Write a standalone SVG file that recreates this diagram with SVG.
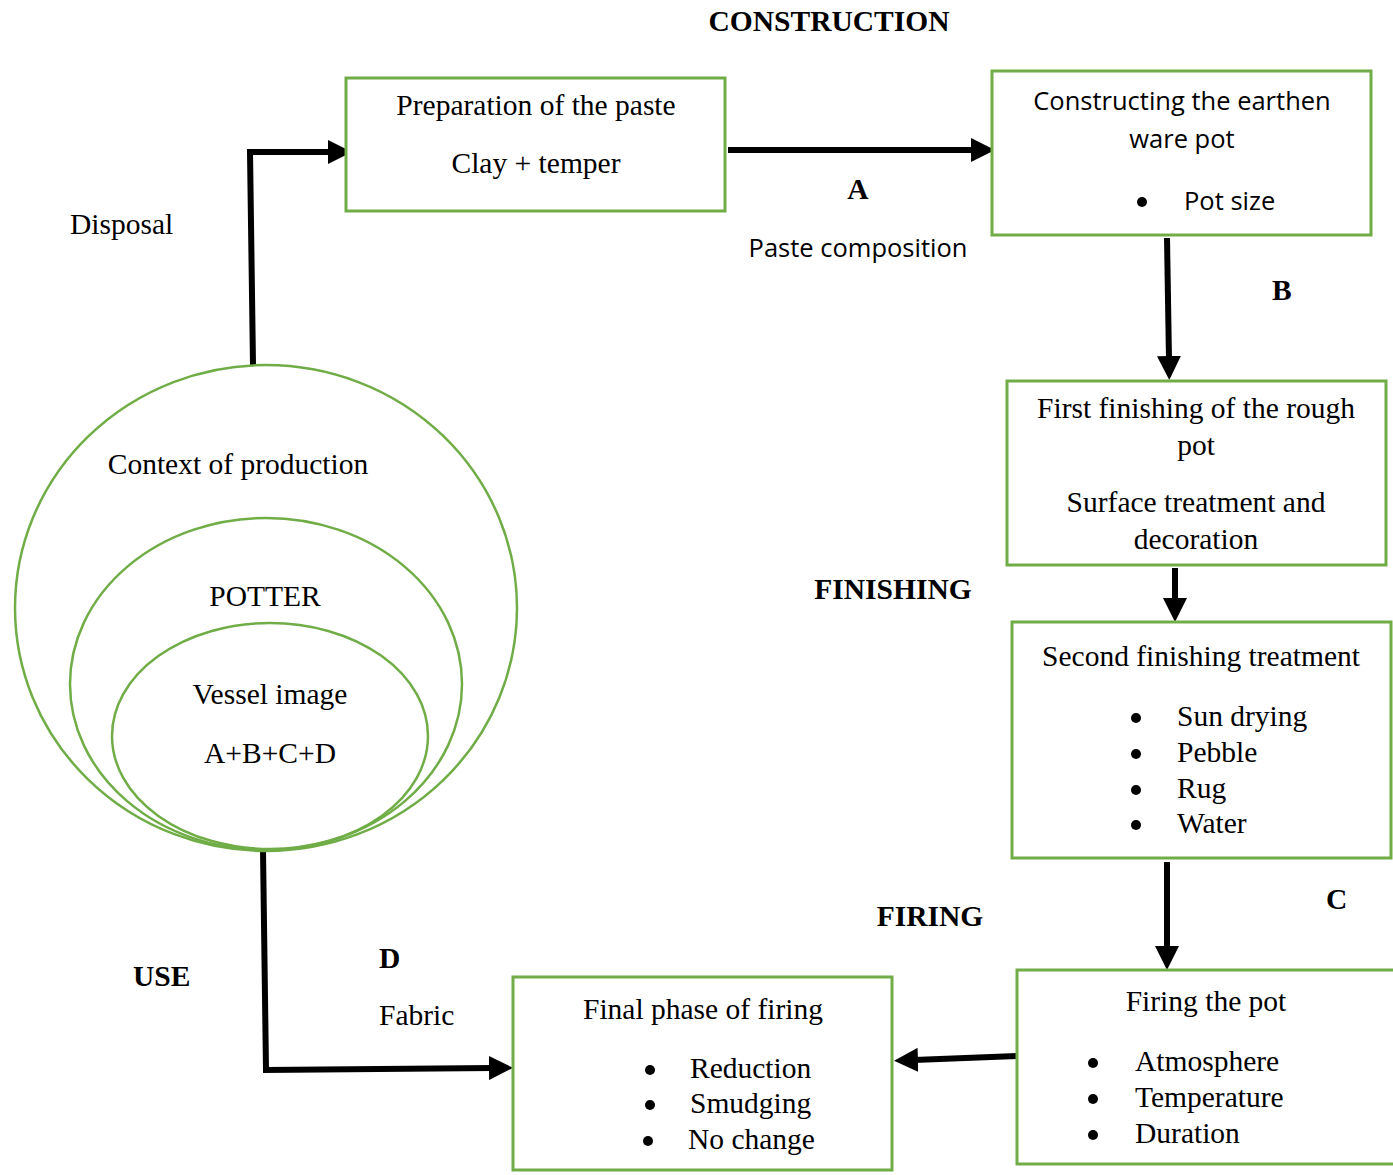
<svg xmlns="http://www.w3.org/2000/svg" width="1393" height="1175" viewBox="0 0 1393 1175">
<style>
.box{fill:#fff;stroke:#70AD47;stroke-width:3}
.ell{fill:none;stroke:#70AD47;stroke-width:2.5}
.t{font-family:"Liberation Serif","Times New Roman",serif;font-size:29.5px;fill:#000}
.b{font-family:"Liberation Serif","Times New Roman",serif;font-size:29.5px;font-weight:bold;fill:#000}
.s{font-family:"Open Sans","Liberation Sans",sans-serif;font-size:25.5px;fill:#000}
.c{text-anchor:middle}
.con{fill:none;stroke:#000;stroke-width:6}
</style>
<defs>
<marker id="ah" markerUnits="userSpaceOnUse" markerWidth="24" markerHeight="24" viewBox="0 0 24 24" refX="4" refY="12" orient="auto">
<path d="M0,0 L24,12 L0,24 Z" fill="#000"/>
</marker>
</defs>
<rect width="1393" height="1175" fill="#fff"/>

<g id="connectors">
<polyline class="con" points="253,365 250,152 332,152" marker-end="url(#ah)"/>
<line class="con" x1="728" y1="150" x2="975" y2="150" marker-end="url(#ah)"/>
<line class="con" x1="1167" y1="238" x2="1169" y2="360" marker-end="url(#ah)"/>
<line class="con" x1="1175" y1="568" x2="1175" y2="602" marker-end="url(#ah)"/>
<line class="con" x1="1167" y1="862" x2="1167" y2="950" marker-end="url(#ah)"/>
<line class="con" x1="1017" y1="1056" x2="914" y2="1060" marker-end="url(#ah)"/>
<polyline class="con" points="263,850 266,1070 493,1068" marker-end="url(#ah)"/>
</g>

<g id="context">
<ellipse class="ell" cx="266" cy="608" rx="251" ry="243"/>
<text class="t c" x="238" y="474">Context of production</text>
</g>
<g id="potter">
<ellipse class="ell" cx="266" cy="684" rx="196" ry="166"/>
<text class="t c" x="265" y="606">POTTER</text>
</g>
<g id="vessel">
<ellipse class="ell" cx="270" cy="736" rx="158" ry="113"/>
<text class="t c" x="270" y="704">Vessel image</text>
<text class="t c" x="270" y="763">A+B+C+D</text>
</g>

<g id="preparation">
<rect class="box" x="346" y="78" width="379" height="133"/>
<text class="t c" x="536" y="115">Preparation of the paste</text>
<text class="t c" x="536" y="173">Clay + temper</text>
</g>

<g id="constructing">
<rect class="box" x="992" y="71" width="379" height="164"/>
<text class="s c" x="1182" y="110">Constructing the earthen</text>
<text class="s c" x="1182" y="148">ware pot</text>
<circle cx="1142" cy="202" r="5"/>
<text class="s" x="1184" y="210">Pot size</text>
</g>

<g id="first-finishing">
<rect class="box" x="1007" y="381" width="379" height="184"/>
<text class="t c" x="1196" y="418">First finishing of the rough</text>
<text class="t c" x="1196" y="455">pot</text>
<text class="t c" x="1196" y="512">Surface treatment and</text>
<text class="t c" x="1196" y="549">decoration</text>
</g>

<g id="second-finishing">
<rect class="box" x="1012" y="622" width="379" height="236"/>
<text class="t c" x="1201" y="666">Second finishing treatment</text>
<circle cx="1136" cy="718" r="5"/><text class="t" x="1177" y="726">Sun drying</text>
<circle cx="1136" cy="754" r="5"/><text class="t" x="1177" y="762">Pebble</text>
<circle cx="1136" cy="790" r="5"/><text class="t" x="1177" y="798">Rug</text>
<circle cx="1136" cy="825" r="5"/><text class="t" x="1177" y="833">Water</text>
</g>

<g id="firing">
<rect class="box" x="1017" y="970" width="380" height="194"/>
<text class="t c" x="1206" y="1011">Firing the pot</text>
<circle cx="1093" cy="1063" r="5"/><text class="t" x="1135" y="1071">Atmosphere</text>
<circle cx="1093" cy="1099" r="5"/><text class="t" x="1135" y="1107">Temperature</text>
<circle cx="1093" cy="1135" r="5"/><text class="t" x="1135" y="1143">Duration</text>
</g>

<g id="final-phase">
<rect class="box" x="513" y="977" width="379" height="193"/>
<text class="t c" x="703" y="1019">Final phase of firing</text>
<circle cx="650" cy="1070" r="5"/><text class="t" x="690" y="1078">Reduction</text>
<circle cx="650" cy="1105" r="5"/><text class="t" x="690" y="1113">Smudging</text>
<circle cx="648" cy="1141" r="5"/><text class="t" x="688" y="1149">No change</text>
</g>

<g id="labels">
<text class="b c" x="829" y="31">CONSTRUCTION</text>
<text class="t" x="70" y="234">Disposal</text>
<text class="b c" x="858" y="199">A</text>
<text class="s c" x="858" y="257">Paste composition</text>
<text class="b" x="1272" y="300">B</text>
<text class="b c" x="893" y="599">FINISHING</text>
<text class="b" x="1326" y="909">C</text>
<text class="b c" x="930" y="926">FIRING</text>
<text class="b" x="133" y="986">USE</text>
<text class="b" x="379" y="968">D</text>
<text class="t" x="379" y="1025">Fabric</text>
</g>
</svg>
